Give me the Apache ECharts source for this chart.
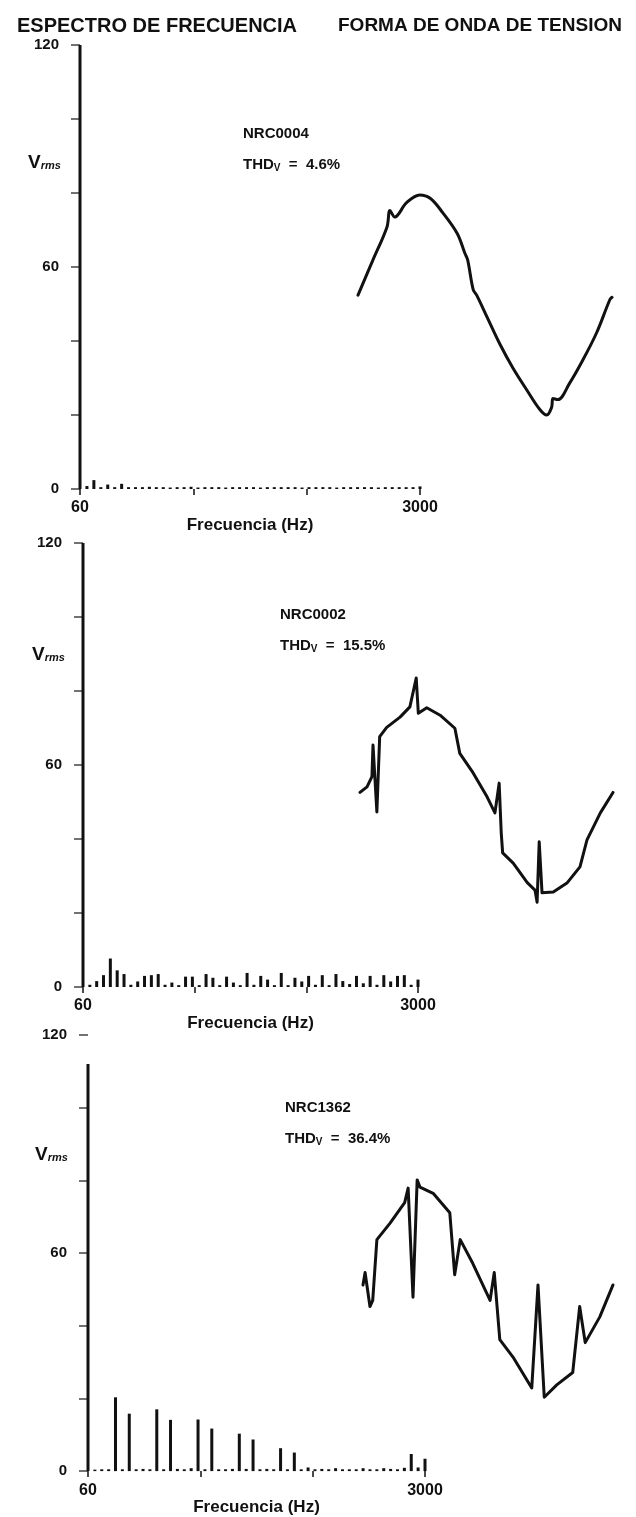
<!DOCTYPE html>
<html><head><meta charset="utf-8">
<script src="https://cdn.jsdelivr.net/npm/echarts@6/dist/echarts.min.js"></script>
<style>html,body{margin:0;padding:0;background:#fff}#c{width:636px;height:1517px}</style>
</head><body><div id="c"></div>
<script>
// Harmonic frequencies (Hz)
const freqs = [60,120,180,240,300,360,420,480,540,600,660,720,780,840,900,960,1020,1080,1140,1200,
  1260,1320,1380,1440,1500,1560,1620,1680,1740,1800,1860,1920,1980,2040,2100,2160,2220,2280,2340,2400,
  2460,2520,2580,2640,2700,2760,2820,2880,2940,3000];
// Spectrum amplitudes (Vrms) per harmonic
const spec1 = [120,0.8,2.4,0.5,1.2,0.5,1.4,0.5,0.5,0.5,0.6,0.5,0.5,0.4,0.5,0.5,0.6,0.4,0.5,0.5,
  0.5,0.4,0.5,0.5,0.5,0.5,0.4,0.5,0.5,0.5,0.5,0.5,0.4,0.5,0.5,0.5,0.5,0.4,0.5,0.5,
  0.5,0.5,0.5,0.4,0.5,0.5,0.5,0.5,0.5,0.7];
const spec2 = [120,0.6,1.6,3.2,7.7,4.5,3.5,0.6,1.5,3.0,3.2,3.5,0.6,1.2,0.5,2.8,2.8,0.5,3.5,2.5,
  0.5,2.8,1.2,0.5,3.8,0.6,3.0,2.0,0.5,3.8,0.5,2.5,1.5,3.0,0.6,3.2,0.5,3.5,1.6,0.8,
  3.0,1.0,3.0,0.6,3.2,1.5,3.0,3.2,0.6,2.0];
const spec3 = [112,0.4,0.5,0.5,20.3,0.5,15.8,0.5,0.6,0.5,17.0,0.5,14.1,0.6,0.5,0.8,14.2,0.5,11.7,0.5,
  0.5,0.6,10.3,0.6,8.7,0.5,0.6,0.5,6.3,0.5,5.1,0.5,1.0,0.5,0.6,0.5,0.8,0.5,0.5,0.5,
  0.8,0.5,0.5,0.8,0.6,0.5,0.9,4.7,1.0,3.4];
// Voltage waveforms: phase angle (deg) and per-unit voltage
const wave1Deg = [0,21.6,41.8,46,53,70,89,104,122,143,154,158,166,171,186,204,223,243,262,272,279,281,288,305,324,344,363,366];
const wave1Val = [0.09,0.41,0.71,0.86,0.80,0.93,1.00,0.97,0.84,0.65,0.47,0.41,0.14,0.09,-0.11,-0.35,-0.57,-0.77,-0.95,-1.00,-0.93,-0.85,-0.86,-0.71,-0.50,-0.25,0.05,0.07];
const wave2Deg = [0,10,17,18.5,24,28,38,57,71,80,83,95,114,135,142,161,181,192,198,201,203,218,238,249,252,255,259,275,295,313,323,342,360];
const wave2Val = [0.06,0.12,0.23,0.57,-0.15,0.66,0.76,0.87,0.98,1.29,0.91,0.97,0.89,0.75,0.48,0.27,0.01,-0.16,0.16,-0.38,-0.59,-0.70,-0.91,-0.99,-1.12,-0.47,-1.02,-1.01,-0.91,-0.74,-0.45,-0.16,0.06];
const wave3Deg = [0,3,10,14,20,39,60,65,72,78,82,101,125,132,140,158,183,189,197,216,243,252,261,279,302,312,320,341,360];
const wave3Val = [0.02,0.14,-0.19,-0.13,0.46,0.62,0.82,0.96,-0.10,1.04,0.97,0.91,0.72,0.12,0.46,0.23,-0.13,0.14,-0.51,-0.68,-0.98,0.02,-1.07,-0.95,-0.83,-0.19,-0.54,-0.29,0.02];
// Text
const codes = ['NRC0004','NRC0002','NRC1362'];
const thd = ['4.6%','15.5%','36.4%'];
const yTickLabels = [0,60,120];
const xTickLabels = [60,3000];

const FONT = '"Liberation Sans", Arial, Helvetica, sans-serif';
const INK = '#111';
const specLayout = [
  {left:80, top:45, width:340, height:444, nameGap:22},
  {left:83, top:543, width:335, height:444, nameGap:20},
  {left:88, top:1035, width:337, height:444, nameGap:17}
];
const waveLayout = [
  {left:358, top:195, width:254, height:220, max:366, smooth:0.35},
  {left:360, top:705, width:253, height:186, max:360, smooth:false},
  {left:363, top:1184, width:250, height:206, max:360, smooth:false}
];
const textLayout = [
  {left:238, top:121, vTop:148, vLeft:23},
  {left:275, top:602, vTop:640, vLeft:27},
  {left:280, top:1095, vTop:1140, vLeft:30}
];
const specs = [spec1, spec2, spec3];
const waves = [[wave1Deg,wave1Val],[wave2Deg,wave2Val],[wave3Deg,wave3Val]];

const grid=[], xAxis=[], yAxis=[], series=[], title=[];
specs.forEach((s,i)=>{
  const L = specLayout[i];
  grid.push({left:L.left, top:L.top, width:L.width, height:L.height});
  xAxis.push({type:'value', gridIndex:grid.length-1, min:60, max:3000,
    axisLine:{show:false}, splitLine:{show:false},
    axisTick:{show:true, customValues:[60,1040,2020,3000], length:6, lineStyle:{color:INK,width:1.5}},
    axisLabel:{customValues:xTickLabels, formatter:v=>String(v), fontSize:16, fontWeight:'bold', color:INK, fontFamily:FONT, margin:11},
    name:'Frecuencia (Hz)', nameLocation:'middle', nameGap:L.nameGap,
    nameTextStyle:{fontSize:17, fontWeight:'bold', color:INK, fontFamily:FONT}
  });
  yAxis.push({type:'value', gridIndex:grid.length-1, min:0, max:120, interval:20,
    axisLine:{show:false}, splitLine:{show:false},
    axisTick:{show:true, length:9, lineStyle:{color:'#444',width:1.5}},
    axisLabel:{formatter:v=>yTickLabels.includes(v)?String(v):'', fontSize:15, fontWeight:'bold', color:INK, fontFamily:FONT, margin:21}
  });
  series.push({type:'bar', xAxisIndex:xAxis.length-1, yAxisIndex:yAxis.length-1, barWidth:3,
    itemStyle:{color:INK}, silent:true, animation:false,
    data: freqs.map((f,k)=>[f, s[k]])});
});
waves.forEach((w,i)=>{
  const L = waveLayout[i];
  grid.push({left:L.left, top:L.top, width:L.width, height:L.height});
  xAxis.push({type:'value', gridIndex:grid.length-1, min:0, max:L.max, show:false});
  yAxis.push({type:'value', gridIndex:grid.length-1, min:-1, max:1, show:false});
  series.push({type:'line', xAxisIndex:xAxis.length-1, yAxisIndex:yAxis.length-1, symbol:'none',
    smooth:L.smooth, clip:false,
    lineStyle:{color:INK, width:3, join:'round', cap:'round'}, animation:false, silent:true,
    data: w[0].map((d,k)=>[d, w[1][k]])});
});
title.push({text:'ESPECTRO DE FRECUENCIA', left:12, top:11, textStyle:{fontSize:20, fontWeight:'bold', color:INK, fontFamily:FONT}});
title.push({text:'FORMA DE ONDA DE TENSION', left:333, top:11, textStyle:{fontSize:19, fontWeight:'bold', color:INK, fontFamily:FONT}});
codes.forEach((c,i)=>{
  const T = textLayout[i];
  title.push({text:c, left:T.left, top:T.top, textStyle:{fontSize:15, fontWeight:'bold', color:INK, fontFamily:FONT}});
  title.push({text:'{a|THD}{s|V}{a|  =  '+thd[i]+'}', left:T.left, top:T.top+31,
    textStyle:{rich:{a:{fontSize:15, fontWeight:'bold', color:INK, fontFamily:FONT},
                     s:{fontSize:10, fontWeight:'bold', color:INK, fontFamily:FONT, padding:[6,0,0,0]}}}});
  title.push({text:'{v|V}{s|rms}', left:T.vLeft, top:T.vTop,
    textStyle:{rich:{v:{fontSize:19, fontWeight:'bold', color:INK, fontFamily:FONT},
                     s:{fontSize:11, fontWeight:'bold', fontStyle:'italic', color:INK, fontFamily:FONT, padding:[6,0,0,0]}}}});
});
const chart = echarts.init(document.getElementById('c'), null, {renderer:'canvas'});
chart.setOption({backgroundColor:'#fff', animation:false, title, grid, xAxis, yAxis, series});
</script></body></html>
